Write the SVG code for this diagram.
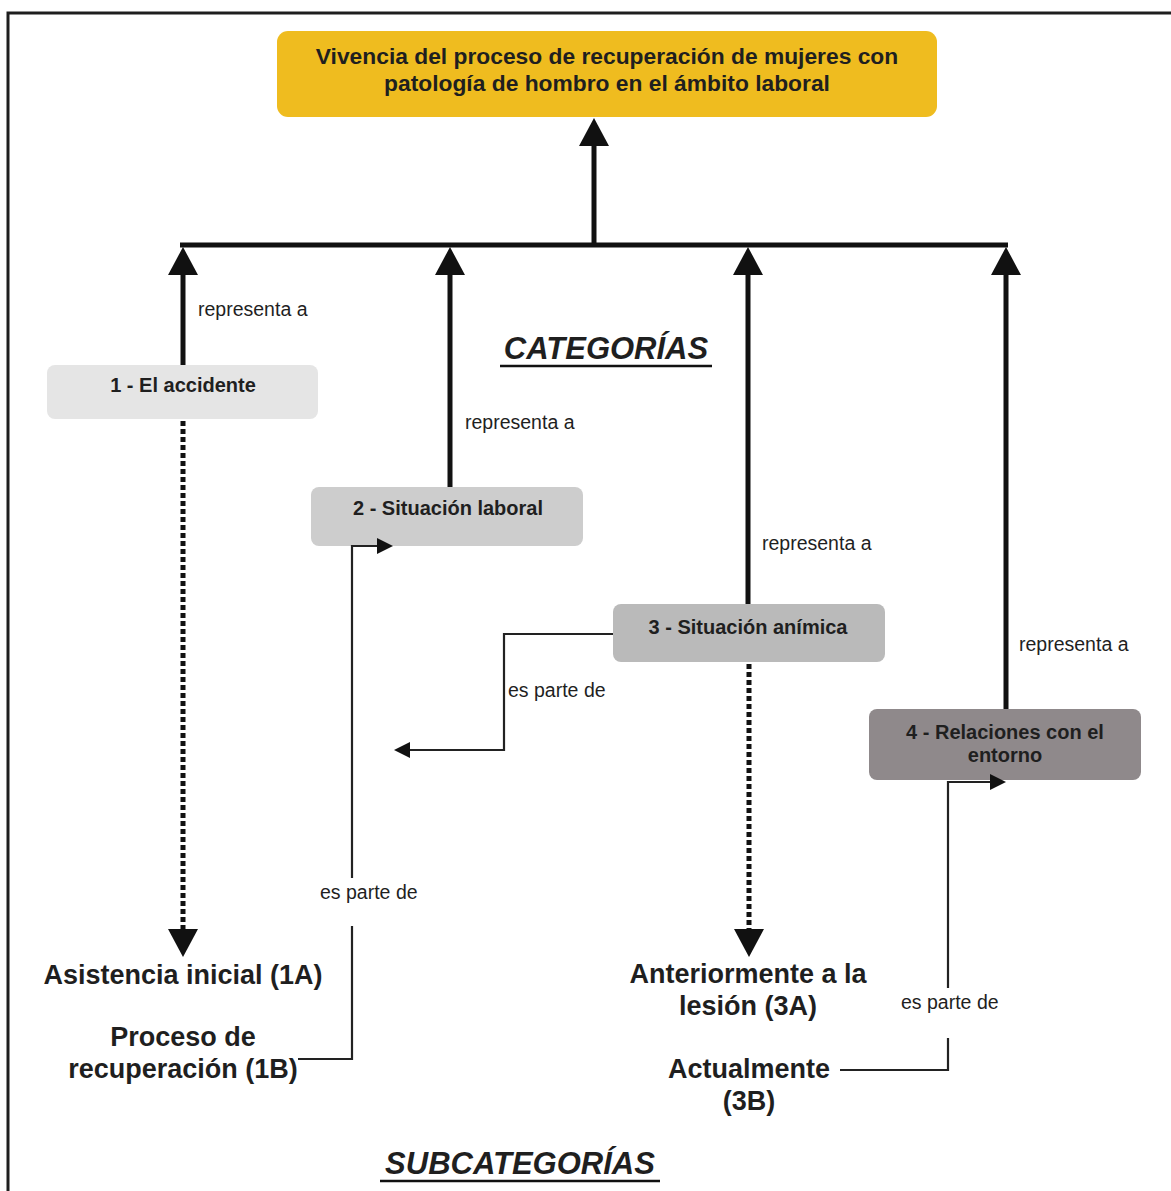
<svg xmlns="http://www.w3.org/2000/svg" width="1171" height="1191" viewBox="0 0 1171 1191">
<style>
text{font-family:"Liberation Sans",Arial,sans-serif;fill:#1f1f1f}
.title{font-size:22.8px;font-weight:bold;text-anchor:middle}
.cat{font-size:20px;font-weight:bold;text-anchor:middle}
.sub{font-size:27px;font-weight:bold;text-anchor:middle}
.lbl{font-size:19.5px}
.head{font-size:31px;font-weight:bold;font-style:italic;text-anchor:middle}
.thick{stroke:#111;stroke-width:5;fill:none}
.dot{stroke:#111;stroke-width:5;fill:none;stroke-dasharray:5 3}
.thin{stroke:#222;stroke-width:2.2;fill:none}
.ul{stroke:#111;stroke-width:2.5}
</style>
<defs>
<marker id="big" markerUnits="userSpaceOnUse" markerWidth="30" markerHeight="30" refX="20" refY="15" orient="auto">
<path d="M0,0 L28,15 L0,30 Z" fill="#111"/>
</marker>
<marker id="small" markerUnits="userSpaceOnUse" markerWidth="18" markerHeight="18" refX="13" refY="8" orient="auto">
<path d="M0,0 L16,8 L0,16 Z" fill="#111"/>
</marker>
</defs>
<rect width="1171" height="1191" fill="#fff"/>
<path d="M8,1191 V13 H1171" fill="none" stroke="#1e1e1e" stroke-width="3"/>

<g id="root">
<rect x="277" y="31" width="660" height="86" rx="11" fill="#EFBC1F"/>
<text class="title" x="607" y="64">Vivencia del proceso de recuperación de mujeres con</text>
<text class="title" x="607" y="91">patología de hombro en el ámbito laboral</text>
</g>

<g id="heading-categorias">
<text class="head" x="606" y="359">CATEGORÍAS</text>
<line class="ul" x1="500" y1="366" x2="712" y2="366"/>
</g>

<g id="cat1">
<rect x="47" y="365" width="271" height="54" rx="8" fill="#e5e5e5"/>
<text class="cat" x="183" y="392">1 - El accidente</text>
</g>
<g id="cat2">
<rect x="311" y="487" width="272" height="59" rx="8" fill="#cdcdcd"/>
<text class="cat" x="448" y="515">2 - Situación laboral</text>
</g>
<g id="cat3">
<rect x="613" y="604" width="272" height="58" rx="8" fill="#bababa"/>
<text class="cat" x="748" y="634">3 - Situación anímica</text>
</g>
<g id="cat4">
<rect x="869" y="709" width="272" height="71" rx="8" fill="#8f898b"/>
<text class="cat" x="1005" y="739">4 - Relaciones con el</text>
<text class="cat" x="1005" y="762">entorno</text>
</g>

<g id="sub1A">
<text class="sub" x="183" y="984">Asistencia inicial (1A)</text>
</g>
<g id="sub1B">
<text class="sub" x="183" y="1046">Proceso de</text>
<text class="sub" x="183" y="1078">recuperación (1B)</text>
</g>
<g id="sub3A">
<text class="sub" x="748" y="983">Anteriormente a la</text>
<text class="sub" x="748" y="1015">lesión (3A)</text>
</g>
<g id="sub3B">
<text class="sub" x="749" y="1078">Actualmente</text>
<text class="sub" x="749" y="1110">(3B)</text>
</g>

<g id="heading-subcategorias">
<text class="head" x="520" y="1174">SUBCATEGORÍAS</text>
<line class="ul" x1="380" y1="1181" x2="660" y2="1181"/>
</g>

<g id="connectors">
<path class="thick" d="M594,245 V126" marker-end="url(#big)"/>
<path class="thick" d="M180,245 H1008"/>
<path class="thick" d="M183,365 V255" marker-end="url(#big)"/>
<path class="thick" d="M450,487 V255" marker-end="url(#big)"/>
<path class="thick" d="M748,604 V255" marker-end="url(#big)"/>
<path class="thick" d="M1006,709 V255" marker-end="url(#big)"/>
<path class="dot" d="M183,421 V949" marker-end="url(#big)"/>
<path class="dot" d="M749,664 V949" marker-end="url(#big)"/>
<path class="thin" d="M298,1059 H352 V926"/>
<path class="thin" d="M352,878 V546 H390" marker-end="url(#small)"/>
<path class="thin" d="M613,634 H504 V750 H397" marker-end="url(#small)"/>
<path class="thin" d="M840,1070 H948 V1038"/>
<path class="thin" d="M948,988 V782 H1003" marker-end="url(#small)"/>
<text class="lbl" x="198" y="316">representa a</text>
<text class="lbl" x="465" y="429">representa a</text>
<text class="lbl" x="762" y="550">representa a</text>
<text class="lbl" x="1019" y="651">representa a</text>
<text class="lbl" x="508" y="697">es parte de</text>
<text class="lbl" x="320" y="899">es parte de</text>
<text class="lbl" x="901" y="1009">es parte de</text>
</g>
</svg>
